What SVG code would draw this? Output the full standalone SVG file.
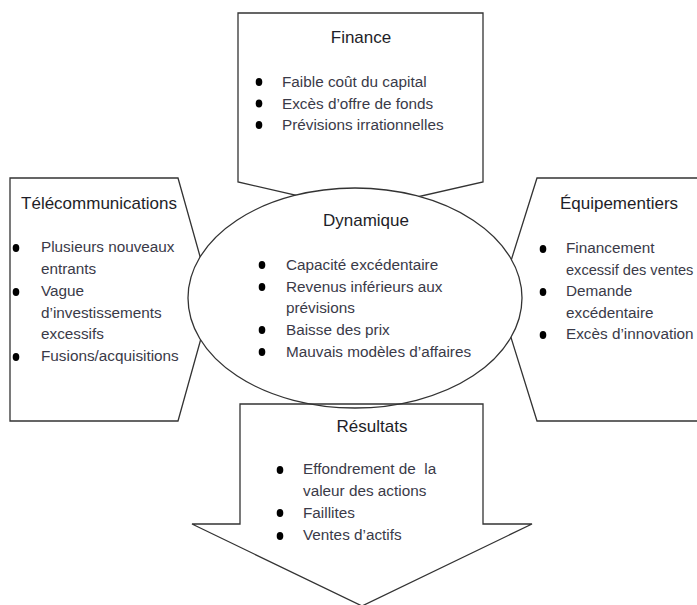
<svg xmlns="http://www.w3.org/2000/svg" width="697" height="605" viewBox="0 0 697 605">
<style>
.shape{fill:#fff;stroke:#333;stroke-width:1.3;stroke-linejoin:miter}
.open{fill:none;stroke:#333;stroke-width:1.3}
.title{font-family:"Liberation Sans",Arial,sans-serif;font-size:17px;fill:#1e1e28;text-anchor:middle}
.body{font-family:"Liberation Sans",Arial,sans-serif;font-size:15.3px;fill:#3a3a48}
.dot{fill:#000}
</style>
<rect width="697" height="605" fill="#fff"/>
<g id="finance">
<polygon class="shape" points="238,13 483,13 483,182 360,210 238,182"/>
<text class="title" x="361" y="43">Finance</text>
<ellipse class="dot" cx="259" cy="82" rx="3.3" ry="4"/>
<ellipse class="dot" cx="259" cy="103.5" rx="3.3" ry="4"/>
<ellipse class="dot" cx="259" cy="125" rx="3.3" ry="4"/>
<text class="body" x="282" y="87">Faible coût du capital</text>
<text class="body" x="282" y="108.5">Excès d’offre de fonds</text>
<text class="body" x="282" y="130">Prévisions irrationnelles</text>
</g>
<g id="telecom">
<polygon class="shape" points="10,178 178,178 212,299 178,421 10,421"/>
<text class="title" x="99" y="209">Télécommunications</text>
<ellipse class="dot" cx="16" cy="248" rx="3.3" ry="4"/>
<ellipse class="dot" cx="16" cy="292" rx="3.3" ry="4"/>
<ellipse class="dot" cx="16" cy="357" rx="3.3" ry="4"/>
<text class="body" x="41" y="252">Plusieurs nouveaux</text>
<text class="body" x="41" y="274">entrants</text>
<text class="body" x="41" y="296">Vague</text>
<text class="body" x="41" y="318">d’investissements</text>
<text class="body" x="41" y="339">excessifs</text>
<text class="body" x="41" y="361">Fusions/acquisitions</text>
</g>
<g id="equipementiers">
<polygon class="shape" points="537,178 710,178 710,421 537,421 499,299"/>
<text class="title" x="619" y="209">Équipementiers</text>
<ellipse class="dot" cx="543" cy="249" rx="3.3" ry="4"/>
<ellipse class="dot" cx="543" cy="292" rx="3.3" ry="4"/>
<ellipse class="dot" cx="543" cy="335" rx="3.3" ry="4"/>
<text class="body" x="566" y="253">Financement</text>
<text class="body" x="566" y="275" style="font-size:14.6px">excessif des ventes</text>
<text class="body" x="566" y="296">Demande</text>
<text class="body" x="566" y="318">excédentaire</text>
<text class="body" x="566" y="339">Excès d’innovation</text>
</g>
<g id="dynamique">
<ellipse class="shape" cx="355" cy="298" rx="167" ry="110"/>
<text class="title" x="366" y="226">Dynamique</text>
<ellipse class="dot" cx="262" cy="265" rx="3.3" ry="4"/>
<ellipse class="dot" cx="262" cy="287" rx="3.3" ry="4"/>
<ellipse class="dot" cx="262" cy="330" rx="3.3" ry="4"/>
<ellipse class="dot" cx="262" cy="352" rx="3.3" ry="4"/>
<text class="body" x="286" y="270">Capacité excédentaire</text>
<text class="body" x="286" y="292">Revenus inférieurs aux</text>
<text class="body" x="286" y="313">prévisions</text>
<text class="body" x="286" y="335">Baisse des prix</text>
<text class="body" x="286" y="357">Mauvais modèles d’affaires</text>
</g>
<g id="resultats">
<polygon class="open" points="240,404 483,404 483,524 532,524 362,606 192,524 240,524"/>
<text class="title" x="372" y="432">Résultats</text>
<ellipse class="dot" cx="280" cy="470" rx="3.3" ry="4"/>
<ellipse class="dot" cx="280" cy="513" rx="3.3" ry="4"/>
<ellipse class="dot" cx="280" cy="536" rx="3.3" ry="4"/>
<text class="body" x="303" y="474" xml:space="preserve">Effondrement de  la</text>
<text class="body" x="303" y="496">valeur des actions</text>
<text class="body" x="303" y="518">Faillites</text>
<text class="body" x="303" y="540">Ventes d’actifs</text>
</g>
<g id="connectors"></g>
</svg>
